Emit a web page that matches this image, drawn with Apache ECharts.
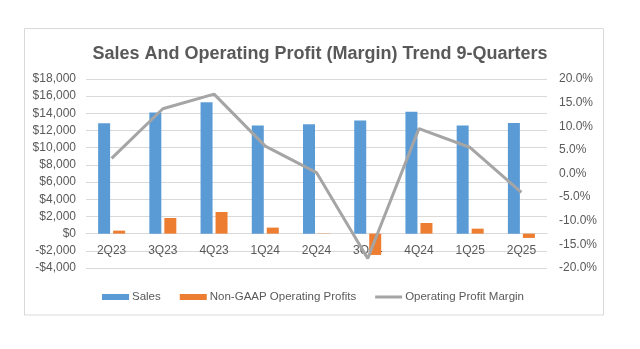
<!DOCTYPE html>
<html>
<head>
<meta charset="utf-8">
<script src="https://cdn.jsdelivr.net/npm/echarts@6/dist/echarts.min.js"></script>
<style>
html,body{margin:0;padding:0;background:#fff;}
#main{width:640px;height:349px;}
</style>
</head>
<body>
<div id="main"></div>
<script>
const categories = ['2Q23','3Q23','4Q23','1Q24','2Q24','3Q24','4Q24','1Q25','2Q25'];
const sales = [12850, 14100, 15300, 12600, 12720, 13180, 14190, 12600, 12870];
const profits = [350, 1820, 2520, 700, 30, -2480, 1240, 580, -500];
const margin = [3.2, 13.7, 16.8, 5.8, 0.2, -18.0, 9.5, 5.5, -4.0];

const font = 'Liberation Sans';
const chart = echarts.init(document.getElementById('main'));
chart.setOption({
  animation: false,
  textStyle: { fontFamily: font },
  title: {
    text: 'Sales And Operating Profit (Margin) Trend 9-Quarters',
    left: 'center', top: 40,
    textStyle: { fontFamily: font, fontSize: 18, fontWeight: 'bold', color: '#595959' }
  },
  graphic: [{
    type: 'rect', shape: { x: 24.5, y: 28.5, width: 579, height: 286.5 },
    style: { fill: 'none', stroke: '#d9d9d9', lineWidth: 1 }, silent: true
  }],
  legend: {
    bottom: 41, left: 97, itemGap: 19, itemWidth: 27, itemHeight: 6,
    textStyle: { fontFamily: font, fontSize: 11.5, color: '#595959', padding: [0, 0, 0, -2] },
    data: [
      { name: 'Sales', icon: 'rect' },
      { name: 'Non-GAAP Operating Profits', icon: 'rect' },
      { name: 'Operating Profit Margin', icon: 'path://M0,0h27v3h-27z' }
    ]
  },
  grid: { left: 86, right: 93, top: 79, bottom: 81 },
  xAxis: {
    type: 'category', data: categories, position: 'bottom', offset: -35,
    axisLine: { onZero: false, lineStyle: { color: '#d9d9d9' } },
    axisTick: { show: false },
    axisLabel: { color: '#595959', fontSize: 12, margin: 12 }
  },
  yAxis: [{
    type: 'value', min: -4000, max: 18000, interval: 2000,
    axisLine: { show: false }, axisTick: { show: false },
    splitLine: { lineStyle: { color: '#d9d9d9' } },
    axisLabel: {
      color: '#595959', fontSize: 12, margin: 10,
      formatter: v => (v < 0 ? '-$' : '$') + Math.abs(v).toLocaleString('en-US')
    }
  }, {
    type: 'value', min: -20, max: 20, interval: 5,
    axisLine: { show: false }, axisTick: { show: false },
    splitLine: { show: false },
    axisLabel: { color: '#595959', fontSize: 12, margin: 12, formatter: v => v.toFixed(1) + '%' }
  }],
  series: [{
    name: 'Sales', type: 'bar', data: sales, barWidth: 12, barGap: '25%',
    itemStyle: { color: '#5b9bd5' }
  }, {
    name: 'Non-GAAP Operating Profits', type: 'bar', data: profits, barWidth: 12,
    itemStyle: { color: '#ed7d31' }
  }, {
    name: 'Operating Profit Margin', type: 'line', yAxisIndex: 1, data: margin,
    symbol: 'none', lineStyle: { color: '#a5a5a5', width: 3 }, itemStyle: { color: '#a5a5a5' }
  }]
});
</script>
</body>
</html>
